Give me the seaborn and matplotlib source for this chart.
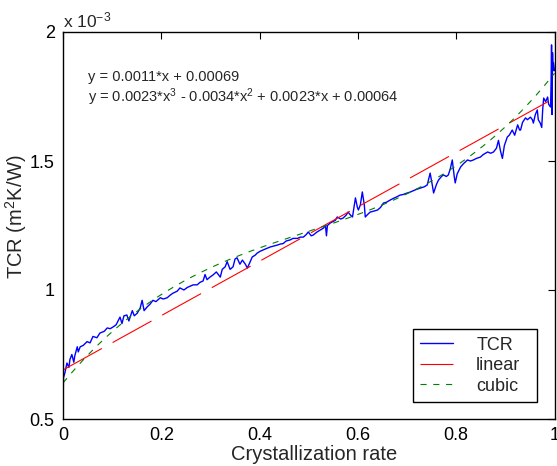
import numpy as np
import pandas as pd
import matplotlib
matplotlib.use("Agg")
import matplotlib.pyplot as plt
from matplotlib.ticker import FuncFormatter
import seaborn as sns

# Measured thermal contact resistance vs crystallization rate (TCR in 1e-3 m^2K/W)
crystallization = [
    0.000, 0.001, 0.004, 0.008, 0.012, 0.014, 0.018, 0.022, 0.024, 0.029,
    0.031, 0.035, 0.041, 0.049, 0.055, 0.061, 0.069, 0.075, 0.084, 0.090,
    0.096, 0.102, 0.108, 0.112, 0.116, 0.120, 0.124, 0.130, 0.134, 0.141,
    0.145, 0.151, 0.157, 0.161, 0.165, 0.171, 0.177, 0.183, 0.189, 0.198,
    0.204, 0.212, 0.218, 0.224, 0.232, 0.238, 0.246, 0.253, 0.259, 0.265,
    0.273, 0.279, 0.285, 0.289, 0.293, 0.299, 0.305, 0.312, 0.316, 0.320,
    0.324, 0.330, 0.334, 0.340, 0.346, 0.350, 0.354, 0.360, 0.365, 0.371,
    0.375, 0.381, 0.385, 0.391, 0.395, 0.401, 0.407, 0.413, 0.422, 0.428,
    0.436, 0.442, 0.448, 0.454, 0.462, 0.468, 0.477, 0.483, 0.489, 0.495,
    0.499, 0.505, 0.509, 0.517, 0.523, 0.530, 0.534, 0.536, 0.538, 0.544,
    0.548, 0.554, 0.558, 0.565, 0.570, 0.576, 0.580, 0.585, 0.589, 0.595,
    0.599, 0.601, 0.605, 0.609, 0.613, 0.615, 0.621, 0.625, 0.631, 0.640,
    0.646, 0.652, 0.658, 0.666, 0.672, 0.678, 0.686, 0.692, 0.699, 0.707,
    0.713, 0.719, 0.727, 0.735, 0.741, 0.747, 0.752, 0.754, 0.760, 0.764,
    0.770, 0.774, 0.780, 0.784, 0.788, 0.792, 0.796, 0.798, 0.802, 0.809,
    0.815, 0.823, 0.829, 0.835, 0.841, 0.849, 0.855, 0.864, 0.870, 0.876,
    0.882, 0.886, 0.890, 0.894, 0.898, 0.904, 0.908, 0.914, 0.919, 0.925,
    0.929, 0.931, 0.935, 0.941, 0.945, 0.951, 0.955, 0.957, 0.961, 0.965,
    0.967, 0.971, 0.974, 0.976, 0.978, 0.982, 0.986, 0.988, 0.992, 0.993,
    0.994, 0.995, 0.996, 0.997, 0.998, 1.000,
]
tcr_milli = [
    0.56, 0.66, 0.68, 0.717, 0.70, 0.73, 0.75, 0.72, 0.745, 0.78,
    0.76, 0.78, 0.785, 0.80, 0.795, 0.82, 0.815, 0.833, 0.84, 0.853,
    0.85, 0.857, 0.865, 0.88, 0.895, 0.87, 0.90, 0.903, 0.88, 0.92,
    0.90, 0.91, 0.93, 0.96, 0.92, 0.934, 0.945, 0.96, 0.955, 0.97,
    0.965, 0.97, 0.98, 0.988, 0.995, 1.008, 1.00, 1.01, 1.015, 1.02,
    1.02, 1.03, 1.035, 1.06, 1.04, 1.05, 1.058, 1.07, 1.06, 1.05,
    1.08, 1.09, 1.11, 1.08, 1.09, 1.12, 1.125, 1.10, 1.116, 1.10,
    1.085, 1.11, 1.128, 1.135, 1.143, 1.15, 1.155, 1.16, 1.167, 1.17,
    1.174, 1.178, 1.18, 1.19, 1.194, 1.20, 1.20, 1.205, 1.205, 1.215,
    1.225, 1.21, 1.213, 1.225, 1.232, 1.24, 1.25, 1.21, 1.25, 1.26,
    1.264, 1.27, 1.283, 1.275, 1.279, 1.29, 1.302, 1.29, 1.283, 1.357,
    1.32, 1.31, 1.33, 1.38, 1.33, 1.283, 1.295, 1.302, 1.305, 1.31,
    1.32, 1.337, 1.34, 1.349, 1.355, 1.36, 1.368, 1.37, 1.375, 1.38,
    1.385, 1.39, 1.395, 1.40, 1.407, 1.453, 1.40, 1.376, 1.41, 1.426,
    1.44, 1.446, 1.44, 1.446, 1.47, 1.504, 1.44, 1.415, 1.45, 1.477,
    1.49, 1.504, 1.50, 1.504, 1.51, 1.515, 1.525, 1.535, 1.53, 1.535,
    1.55, 1.58, 1.54, 1.51, 1.56, 1.593, 1.60, 1.62, 1.60, 1.64,
    1.62, 1.62, 1.65, 1.667, 1.66, 1.67, 1.66, 1.647, 1.68, 1.698,
    1.66, 1.647, 1.63, 1.70, 1.744, 1.73, 1.748, 1.72, 1.709, 1.80,
    1.95, 1.68, 1.92, 1.85, 1.88, 1.85,
]

# Fitted polynomial coefficients (highest power first)
linear_coef = [0.001054, 0.00069]
cubic_coef = [0.0023, -0.0034, 0.0023, 0.00064]

x_ticks = [0, 0.2, 0.4, 0.6, 0.8, 1]
y_ticks_milli = [0.5, 1, 1.5, 2]

FONT = ["Liberation Sans", "DejaVu Sans"]

sns.set_style("white")
plt.rcParams["font.family"] = FONT
plt.rcParams["mathtext.fontset"] = "custom"
plt.rcParams["mathtext.rm"] = "Liberation Sans"
plt.rcParams["mathtext.it"] = "Liberation Sans:italic"

fig = plt.figure(figsize=(5.57, 4.66), dpi=100)
ax = fig.add_axes([63 / 557, 1 - 419 / 466, 491.5 / 557, 387 / 466])

df = pd.DataFrame({"x": crystallization, "tcr": np.array(tcr_milli) * 1e-3})
xfit = np.linspace(0, 1, 400)
fits = pd.DataFrame({
    "x": xfit,
    "linear": np.polyval(linear_coef, xfit),
    "cubic": np.polyval(cubic_coef, xfit),
})

sns.lineplot(data=df, x="x", y="tcr", sort=False, estimator=None,
             color="#0000ff", lw=1.0, label="TCR", ax=ax)
sns.lineplot(data=fits, x="x", y="linear", color="#ff0000", lw=0.8,
             linestyle=(0, (40, 11)), label="linear", ax=ax)
sns.lineplot(data=fits, x="x", y="cubic", color="#008000", lw=0.8,
             linestyle=(0, (5.5, 6)), label="cubic", ax=ax)

ax.set_xlim(0, 1)
ax.set_ylim(0.5e-3, 2e-3)
ax.set_xticks(x_ticks)
ax.set_yticks(np.array(y_ticks_milli) * 1e-3)
ax.xaxis.set_major_formatter(FuncFormatter(lambda v, _: f"{v:g}"))
ax.yaxis.set_major_formatter(FuncFormatter(lambda v, _: f"{v * 1e3:g}"))
ax.tick_params(direction="in", length=5, width=0.8, labelsize=13,
               top=True, right=True, pad=6, colors="black")
for s in ax.spines.values():
    s.set_linewidth(1.0)
    s.set_color("black")

ax.set_xlabel("Crystallization rate", fontsize=14.5)
ax.xaxis.set_label_coords(0.511, -0.068)
ax.set_ylabel("TCR (m$^2$K/W)", fontsize=14.5)
ax.yaxis.set_label_coords(-0.070, 0.522)
ax.text(0.0, 1.004, "x 10$^{-3}$", transform=ax.transAxes,
        fontsize=12.5, ha="left", va="bottom")


def term(c, power, first=False):
    mag = f"{abs(c):.2g}"
    suffix = "" if power == 0 else ("*x" if power == 1 else f"*x$^{power}$")
    if first:
        return ("-" if c < 0 else "") + mag + suffix
    return (" - " if c < 0 else " + ") + mag + suffix


def equation(coefs):
    n = len(coefs) - 1
    return "y = " + "".join(term(c, n - i, i == 0) for i, c in enumerate(coefs))


ax.text(0.051, 0.884, equation(linear_coef), transform=ax.transAxes,
        fontsize=10.5, va="center", ha="left")
ax.text(0.051, 0.832, equation(cubic_coef), transform=ax.transAxes,
        fontsize=10.5, va="center", ha="left")

leg = ax.legend(loc="lower left", bbox_to_anchor=(0.712, 0.044, 0.252, 0.176),
                mode="expand", fontsize=13, frameon=True, fancybox=False,
                framealpha=1, edgecolor="black", handlelength=1.8,
                handletextpad=1.3, labelspacing=0.2, borderpad=0.4,
                borderaxespad=0)
leg.get_frame().set_linewidth(1.0)

fig.savefig("out.png", dpi=100)
